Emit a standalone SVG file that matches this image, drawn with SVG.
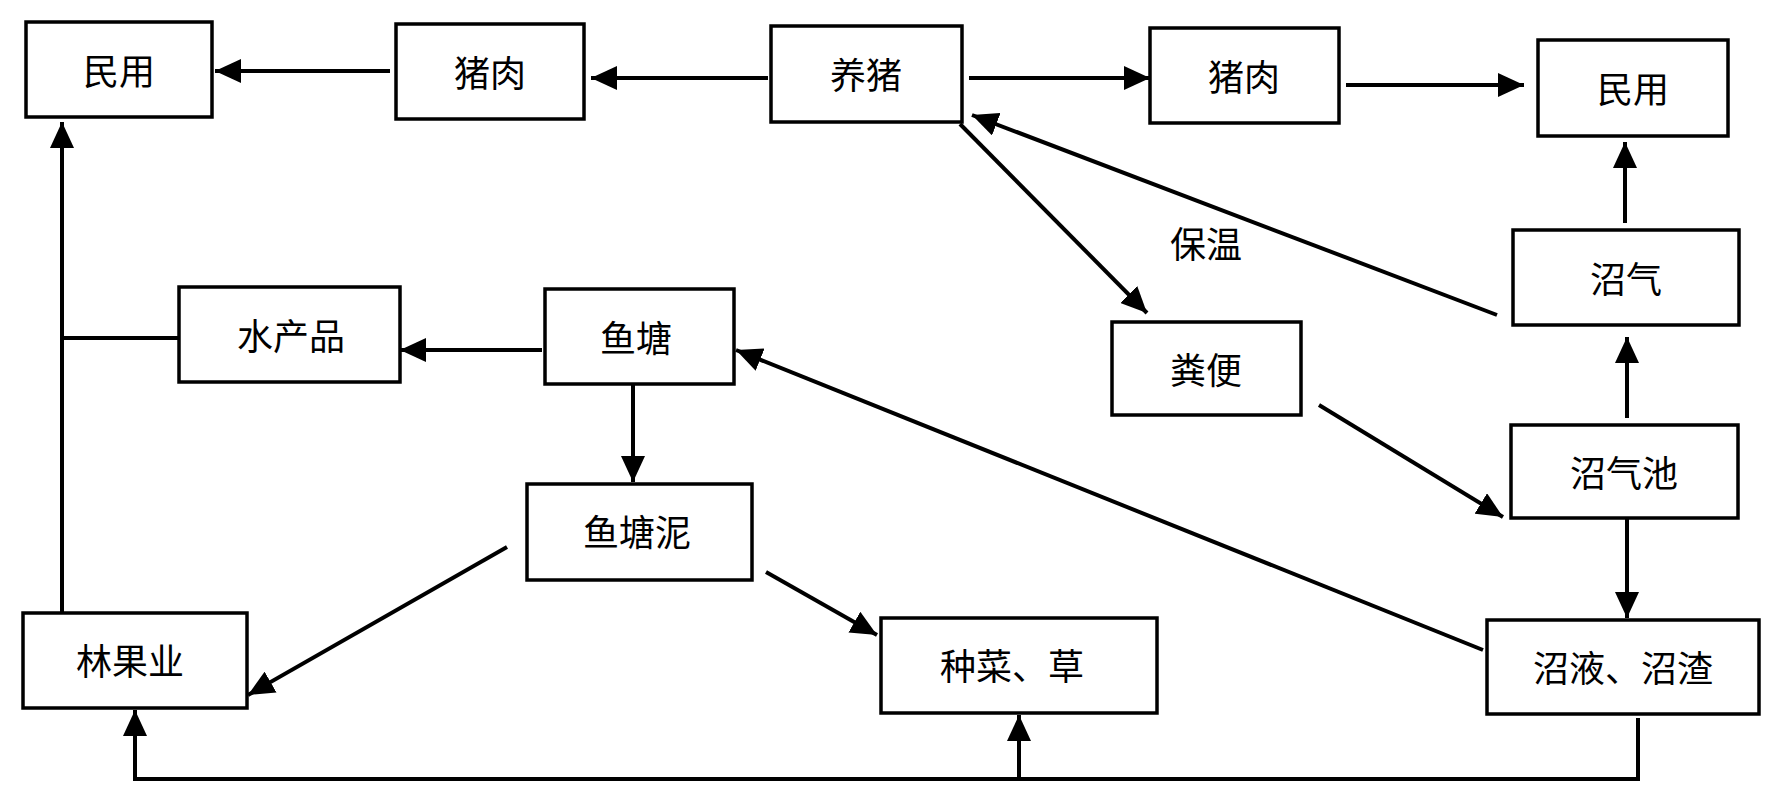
<svg xmlns="http://www.w3.org/2000/svg" width="1771" height="801" viewBox="0 0 1771 801">
<style>
.box{fill:#fff;stroke:#000;stroke-width:3.5}
.lbl{font-family:"Noto Sans CJK SC","Liberation Sans",sans-serif;font-size:36px;fill:#000;text-anchor:middle;dominant-baseline:central}
.ln{fill:none;stroke:#000;stroke-width:4}
</style>
<defs>
<marker id="ah" markerUnits="userSpaceOnUse" markerWidth="28" markerHeight="24" refX="26" refY="12" orient="auto">
<path d="M0,0 L26,12 L0,24 z" fill="#000"/>
</marker>
</defs>
<rect width="1771" height="801" fill="#fff"/>
<g id="connectors">
<line class="ln" x1="390" y1="71" x2="215" y2="71" marker-end="url(#ah)"/>
<line class="ln" x1="768" y1="78" x2="591" y2="78" marker-end="url(#ah)"/>
<line class="ln" x1="969" y1="78" x2="1150" y2="78" marker-end="url(#ah)"/>
<line class="ln" x1="1346" y1="85" x2="1524" y2="85" marker-end="url(#ah)"/>
<line class="ln" x1="1625" y1="223" x2="1625" y2="142" marker-end="url(#ah)"/>
<line class="ln" x1="1627" y1="418" x2="1627" y2="337" marker-end="url(#ah)"/>
<line class="ln" x1="1497" y1="315" x2="972" y2="115" marker-end="url(#ah)"/>
<line class="ln" x1="960" y1="124" x2="1147" y2="313" marker-end="url(#ah)"/>
<line class="ln" x1="1319" y1="405" x2="1503" y2="517" marker-end="url(#ah)"/>
<line class="ln" x1="1627" y1="518" x2="1627" y2="618" marker-end="url(#ah)"/>
<line class="ln" x1="1483" y1="650" x2="736" y2="350" marker-end="url(#ah)"/>
<polyline class="ln" points="1638,718 1638,779 135,779 135,710" marker-end="url(#ah)"/>
<line class="ln" x1="1019" y1="779" x2="1019" y2="715" marker-end="url(#ah)"/>
<line class="ln" x1="542" y1="350" x2="400" y2="350" marker-end="url(#ah)"/>
<line class="ln" x1="633" y1="384" x2="633" y2="482" marker-end="url(#ah)"/>
<line class="ln" x1="507" y1="547" x2="248" y2="695" marker-end="url(#ah)"/>
<line class="ln" x1="766" y1="572" x2="877" y2="635" marker-end="url(#ah)"/>
<line class="ln" x1="62" y1="613" x2="62" y2="122" marker-end="url(#ah)"/>
<line class="ln" x1="62" y1="338" x2="179" y2="338"/>
</g>
<text class="lbl" x="1206" y="242">保温</text>
<g id="n-minyong-l"><rect class="box" x="26" y="22" width="186" height="95"/><text class="lbl" x="119" y="69">民用</text></g>
<g id="n-zhurou-l"><rect class="box" x="396" y="24" width="188" height="95"/><text class="lbl" x="490" y="71">猪肉</text></g>
<g id="n-yangzhu"><rect class="box" x="771" y="26" width="191" height="96"/><text class="lbl" x="866" y="73">养猪</text></g>
<g id="n-zhurou-r"><rect class="box" x="1150" y="28" width="189" height="95"/><text class="lbl" x="1244" y="75">猪肉</text></g>
<g id="n-minyong-r"><rect class="box" x="1538" y="40" width="190" height="96"/><text class="lbl" x="1633" y="87">民用</text></g>
<g id="n-zhaoqi"><rect class="box" x="1513" y="230" width="226" height="95"/><text class="lbl" x="1626" y="277">沼气</text></g>
<g id="n-fenbian"><rect class="box" x="1112" y="322" width="189" height="93"/><text class="lbl" x="1206" y="368">粪便</text></g>
<g id="n-zhaoqichi"><rect class="box" x="1511" y="425" width="227" height="93"/><text class="lbl" x="1624" y="471">沼气池</text></g>
<g id="n-zhaoye"><rect class="box" x="1487" y="620" width="272" height="94"/><text class="lbl" x="1623" y="666">沼液、沼渣</text></g>
<g id="n-zhongcai"><rect class="box" x="881" y="618" width="276" height="95"/><text class="lbl" x="1012" y="664">种菜、草</text></g>
<g id="n-linguoye"><rect class="box" x="23" y="613" width="224" height="95"/><text class="lbl" x="130" y="659">林果业</text></g>
<g id="n-yutangni"><rect class="box" x="527" y="484" width="225" height="96"/><text class="lbl" x="637" y="530">鱼塘泥</text></g>
<g id="n-shuichanpin"><rect class="box" x="179" y="287" width="221" height="95"/><text class="lbl" x="291" y="334">水产品</text></g>
<g id="n-yutang"><rect class="box" x="545" y="289" width="189" height="95"/><text class="lbl" x="636" y="336">鱼塘</text></g>
</svg>
